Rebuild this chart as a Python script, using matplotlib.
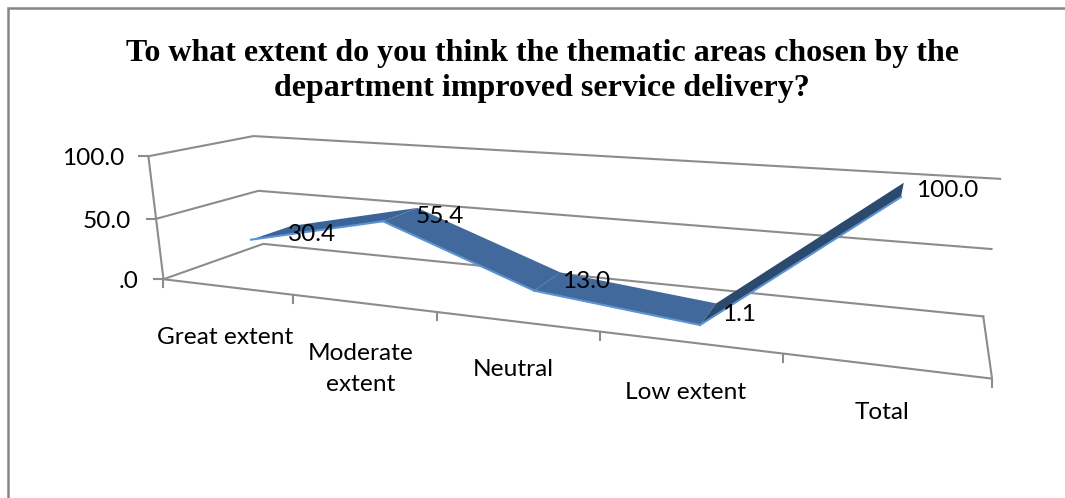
import matplotlib

matplotlib.use("Agg")
import matplotlib.pyplot as plt
import numpy as np
from matplotlib.patches import Polygon

categories = ["Great extent", "Moderate\nextent", "Neutral", "Low extent", "Total"]
values = [30.4, 55.4, 13.0, 1.1, 100.0]
value_ticks = [0, 50, 100]
tick_labels = [".0", "50.0", "100.0"]
title = (
    "To what extent do you think the thematic areas chosen by the\n"
    "department improved service delivery?"
)

W, H = 1065, 498
GREY = "#8c8c8c"

# 3D box corners (x, depth, value) -> where they land in the image, used to fit a camera
box_3d = np.array(
    [
        [0, 0, 0],
        [0, 0, 100],
        [0, 1, 0],
        [0, 1, 50],
        [0, 1, 100],
        [1, 0, 0],
        [1, 1, 0],
        [1, 1, 50],
        [1, 1, 100],
        [0, 0, 50],
    ],
    dtype=float,
)
box_px = np.array(
    [
        [163, 279],
        [149, 156],
        [264, 244],
        [258, 191],
        [253, 136],
        [992, 379],
        [983, 316],
        [992, 249],
        [1000, 179],
        [156, 219],
    ],
    dtype=float,
)


def fit_camera(pts, px):
    rows = []
    for (x, d, v), (u, w) in zip(pts, px):
        v = v / 100
        rows.append([x, d, v, 1, 0, 0, 0, 0, -u * x, -u * d, -u * v, -u])
        rows.append([0, 0, 0, 0, x, d, v, 1, -w * x, -w * d, -w * v, -w])
    return np.linalg.svd(np.array(rows))[2][-1].reshape(3, 4)


cam = fit_camera(box_3d, box_px)


def project(x, d, v):
    p = cam @ np.array([x, d, v / 100, 1.0])
    return p[:2] / p[2]


fig = plt.figure(figsize=(W / 100, H / 100), dpi=100)
ax = fig.add_axes([0, 0, 1, 1])
ax.set_xlim(0, W)
ax.set_ylim(H, 0)
ax.set_axis_off()

# outer chart frame
ax.plot([8, 8, W], [H, 8, 8], color="#868686", lw=1.8, solid_joinstyle="miter")

# walls, gridlines, axis
lw = 1.5
for v in value_ticks:
    line = [project(0, 0, v), project(0, 1, v), project(1, 1, v)]
    ax.plot(*zip(*line), color=GREY, lw=lw)
ax.plot(*zip(project(0, 0, 0), project(0, 0, 100)), color=GREY, lw=lw)
ax.plot(*zip(project(0, 0, 0), project(1, 0, 0), project(1, 1, 0)), color=GREY, lw=lw)

# axis ticks
for v in value_ticks:
    a = project(0, 0, v)
    ax.plot([a[0] - 9, a[0]], [a[1], a[1]], color=GREY, lw=lw)
for i in range(len(categories) + 1):
    a = project(i / len(categories), 0, 0)
    ax.plot([a[0], a[0]], [a[1], a[1] + 8], color=GREY, lw=lw)

# ribbon of the 3D line, one face per segment
n = len(values)
xs = [(i + 0.5) / n for i in range(n)]
d0, d1 = 0.27, 0.69
face_colors = ["#3a6498", "#41699b", "#41699b", "#2c4a6e"]
for i in range(n - 1):
    poly = [
        project(xs[i], d0, values[i]),
        project(xs[i + 1], d0, values[i + 1]),
        project(xs[i + 1], d1, values[i + 1]),
        project(xs[i], d1, values[i]),
    ]
    ax.add_patch(Polygon(poly, closed=True, fc=face_colors[i], ec="none", zorder=3))
    ax.plot(*zip(poly[0], poly[1]), color="#5b93d3", lw=1.5, zorder=4)

font = ["Lato", "DejaVu Sans"]
ax.text(
    542,
    71,
    title,
    ha="center",
    va="center",
    family="Liberation Serif",
    weight="bold",
    fontsize=23,
    linespacing=1.24,
)
for lab, pos in zip(tick_labels, [(129, 281), (107, 221), (93, 158)]):
    ax.text(pos[0], pos[1], lab, ha="center", va="center", family=font, fontsize=17.6)
for lab, pos in zip(categories, [(225, 337), (361, 369), (513, 369), (686, 392), (882, 412)]):
    ax.text(pos[0], pos[1], lab, ha="center", va="center", family=font, fontsize=17.6, linespacing=1.55)
for val, pos in zip(values, [(312, 234), (440, 216), (586, 281), (739, 314), (947, 190)]):
    ax.text(pos[0], pos[1], f"{val:.1f}", ha="center", va="center", family=font, fontsize=17.6, zorder=5)

fig.savefig("out.png", dpi=100)
plt.close(fig)
